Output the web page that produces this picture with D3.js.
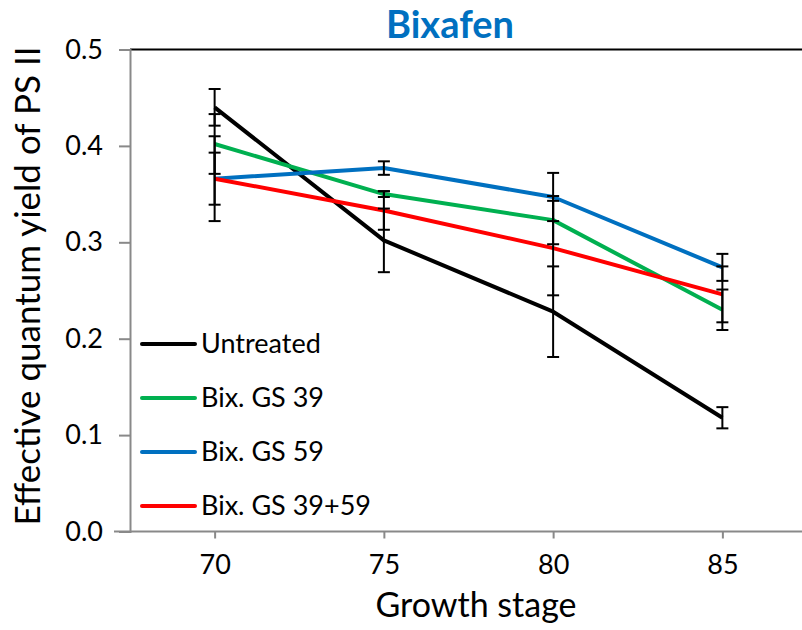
<!DOCTYPE html>
<html>
<head>
<meta charset="utf-8">
<script src="https://cdn.jsdelivr.net/npm/d3@7"></script>
<style>
  html, body { margin: 0; padding: 0; background: #fff; }
  svg { display: block; font-family: Lato, "Open Sans", sans-serif; }
</style>
</head>
<body>
<svg id="chart" width="802" height="630"></svg>
<script>
// Growth stages on the x axis
const stages = ["70", "75", "80", "85"];
const yTicks = [0, 0.1, 0.2, 0.3, 0.4, 0.5];

// Effective quantum yield of PS II per treatment, with error bar half-widths
const untreated    = [0.440, 0.302, 0.228, 0.118];
const untreatedErr = [0.019, 0.033, 0.047, 0.011];
const gs39         = [0.402, 0.350, 0.323, 0.230];
const gs39Err      = [0.031, 0.003, 0.025, 0.021];
const gs59         = [0.366, 0.377, 0.347, 0.274];
const gs59Err      = [0.027, 0.007, 0.025, 0.014];
const gs3959       = [0.366, 0.333, 0.294, 0.246];
const gs3959Err    = [0.044, 0.020, 0.049, 0.029];

const seriesNames  = ["Untreated", "Bix. GS 39", "Bix. GS 59", "Bix. GS 39+59"];
const seriesColors = ["#000000", "#00B050", "#0070C0", "#FF0000"];

const series = [
  { name: seriesNames[0], color: seriesColors[0], values: untreated, errs: untreatedErr },
  { name: seriesNames[1], color: seriesColors[1], values: gs39,      errs: gs39Err },
  { name: seriesNames[2], color: seriesColors[2], values: gs59,      errs: gs59Err },
  { name: seriesNames[3], color: seriesColors[3], values: gs3959,    errs: gs3959Err }
];

const svg = d3.select("#chart");
const plot = { left: 130, right: 807, top: 49.5, bottom: 531.5 };

const x = d3.scalePoint().domain(stages).range([plot.left, plot.right]).padding(0.5);
const y = d3.scaleLinear().domain([0, 0.5]).range([plot.bottom, plot.top]);

const axisGray = "#898989";

// Top frame line
svg.append("line")
  .attr("x1", plot.left).attr("x2", plot.right)
  .attr("y1", y(0.5)).attr("y2", y(0.5))
  .attr("stroke", "#000").attr("stroke-width", 1.8);

// Y axis
const yAxis = svg.append("g")
  .attr("transform", `translate(${plot.left},0)`)
  .call(d3.axisLeft(y).tickValues(yTicks).tickFormat(d3.format(".1f")).tickSizeOuter(0).tickSize(11).tickPadding(16));
yAxis.select(".domain").attr("stroke", axisGray).attr("stroke-width", 2);
yAxis.selectAll(".tick line").attr("stroke", axisGray).attr("stroke-width", 2);
yAxis.selectAll(".tick text")
  .attr("fill", "#000").style("font-size", "27px").style("font-family", "Lato, sans-serif");

// X axis
const xAxis = svg.append("g")
  .attr("transform", `translate(0,${plot.bottom})`)
  .call(d3.axisBottom(x).tickSizeOuter(0).tickSize(7).tickPadding(16));
xAxis.select(".domain").attr("stroke", axisGray).attr("stroke-width", 2)
  .attr("d", `M${plot.left - 16},0H${plot.right}`);
xAxis.selectAll(".tick line").attr("stroke", axisGray).attr("stroke-width", 2);
xAxis.selectAll(".tick text")
  .attr("fill", "#000").style("font-size", "27px").style("font-family", "Lato, sans-serif");

// Axis titles
svg.append("text")
  .attr("x", 476).attr("y", 617)
  .attr("text-anchor", "middle")
  .style("font-size", "34px")
  .text("Growth stage");

svg.append("text")
  .attr("transform", "translate(40,286) rotate(-90)")
  .attr("text-anchor", "middle")
  .style("font-size", "35px")
  .text("Effective quantum yield of PS II");

// Chart title
svg.append("text")
  .attr("x", 450).attr("y", 38)
  .attr("text-anchor", "middle")
  .attr("fill", "#0070C0")
  .style("font-size", "38px")
  .style("font-weight", "bold")
  .text("Bixafen");

// Series lines
const line = d3.line()
  .x((d, i) => x(stages[i]))
  .y(d => y(d));

svg.append("g").selectAll("path")
  .data(series)
  .join("path")
  .attr("d", s => line(s.values))
  .attr("fill", "none")
  .attr("stroke", s => s.color)
  .attr("stroke-width", 4)
  .attr("stroke-linejoin", "round");

// Error bars
const capHalf = 6;
const eg = svg.append("g").attr("stroke", "#000").attr("stroke-width", 2);
series.forEach(s => {
  s.values.forEach((v, i) => {
    const cx = x(stages[i]);
    const hi = y(v + s.errs[i]);
    const lo = y(v - s.errs[i]);
    eg.append("line").attr("x1", cx).attr("x2", cx).attr("y1", hi).attr("y2", lo);
    eg.append("line").attr("x1", cx - capHalf).attr("x2", cx + capHalf).attr("y1", hi).attr("y2", hi);
    eg.append("line").attr("x1", cx - capHalf).attr("x2", cx + capHalf).attr("y1", lo).attr("y2", lo);
  });
});

// Legend
const legend = svg.append("g").attr("transform", "translate(142,344)");
const item = legend.selectAll("g")
  .data(series)
  .join("g")
  .attr("transform", (d, i) => `translate(0,${i * 54})`);
item.append("line")
  .attr("x1", 0).attr("x2", 53)
  .attr("stroke", d => d.color)
  .attr("stroke-width", 4)
  .attr("stroke-linecap", "round");
item.append("text")
  .attr("x", 59).attr("dy", "0.35em")
  .style("font-size", "27px")
  .text(d => d.name);
</script>
</body>
</html>
